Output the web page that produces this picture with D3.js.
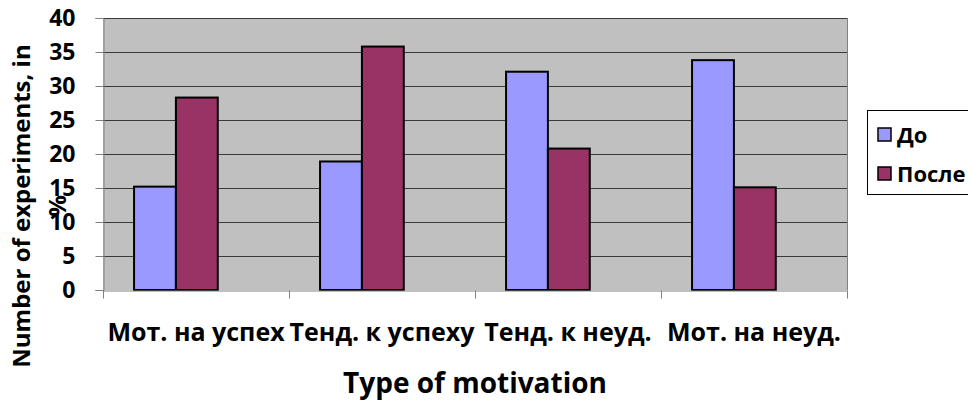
<!DOCTYPE html>
<html>
<head>
<meta charset="utf-8" />
<title></title>
<script src="https://cdn.jsdelivr.net/npm/d3@7"></script>
<style type="text/css">
    body { margin: 0; background: #fff; }
    text { font-family: "Open Sans", "Noto Sans", sans-serif; font-weight: bold; fill: #000; }
</style>
</head>
<body>
<div id="chart"></div>
<script type="text/javascript">
    var categories = ["Мот. на успех", "Тенд. к успеху", "Тенд. к неуд.", "Мот. на неуд."];
    var seriesNames = ["До", "После"];
    var before = [15.2, 18.9, 32.1, 33.8];
    var after = [28.3, 35.8, 20.8, 15.1];
    var yTicks = [0, 5, 10, 15, 20, 25, 30, 35, 40];
    var colors = ["#9999FF", "#993366"];

    var width = 968, height = 404;
    var plot = { left: 103, right: 847, top: 18, bottom: 290 };

    var svg = d3.select("#chart").append("svg")
        .attr("width", width)
        .attr("height", height);

    var x = d3.scaleBand().domain(categories).range([plot.left, plot.right]);
    var y = d3.scaleLinear().domain([0, 40]).range([plot.bottom, plot.top]);

    var step = x.step();
    var barW = step * 0.225;
    var offset = step * 0.167;

    // plot background
    svg.append("rect")
        .attr("x", plot.left).attr("y", plot.top)
        .attr("width", plot.right - plot.left).attr("height", plot.bottom - plot.top)
        .attr("fill", "#C0C0C0");

    // gridlines
    svg.selectAll(".grid").data(yTicks.slice(1)).enter().append("line")
        .attr("x1", plot.left).attr("x2", plot.right)
        .attr("y1", function (d) { return y(d) + 0.5; })
        .attr("y2", function (d) { return y(d) + 0.5; })
        .attr("stroke", "#3a3a3a").attr("stroke-width", 1);

    // right border
    svg.append("line")
        .attr("x1", plot.right + 0.5).attr("x2", plot.right + 0.5)
        .attr("y1", plot.top).attr("y2", plot.bottom)
        .attr("stroke", "#808080");

    // bars
    var rows = categories.map(function (c, i) { return { cat: c, vals: [before[i], after[i]] }; });
    var groups = svg.selectAll(".grp").data(rows).enter().append("g");
    groups.selectAll("rect").data(function (d) {
        return d.vals.map(function (v, j) { return { cat: d.cat, v: v, j: j }; });
    }).enter().append("rect")
        .attr("x", function (d) { return x(d.cat) + offset + d.j * barW; })
        .attr("y", function (d) { return y(d.v); })
        .attr("width", barW)
        .attr("height", function (d) { return plot.bottom - y(d.v); })
        .attr("fill", function (d) { return colors[d.j]; })
        .attr("stroke", "#000").attr("stroke-width", 2);

    // y axis
    var yAxis = d3.axisLeft(y).tickValues(yTicks).tickSize(8).tickPadding(20);
    var gy = svg.append("g").attr("transform", "translate(" + (plot.left + 0.5) + ",0)").call(yAxis);
    gy.select(".domain").attr("stroke", "#808080");
    gy.selectAll(".tick line").attr("stroke", "#808080");
    gy.selectAll("text").style("font-size", "23px").attr("fill", "#000");

    // x axis
    var xAxis = d3.axisBottom(x).tickSize(0).tickPadding(33);
    var gx = svg.append("g").attr("transform", "translate(0," + (plot.bottom + 0.5) + ")").call(xAxis);
    gx.select(".domain").attr("stroke", "#808080");
    gx.selectAll("text").style("font-size", "25px").attr("fill", "#000");
    gx.selectAll(".sep").data(categories.concat([null])).enter().append("line")
        .attr("x1", function (d, i) { return plot.left + i * step + 0.5; })
        .attr("x2", function (d, i) { return plot.left + i * step + 0.5; })
        .attr("y1", 0).attr("y2", 8)
        .attr("stroke", "#808080");

    // axis titles
    svg.append("text")
        .attr("x", (plot.left + plot.right) / 2).attr("y", 393)
        .attr("text-anchor", "middle")
        .style("font-size", "28px")
        .text("Type of motivation");

    var yt = svg.append("text")
        .attr("transform", "translate(22,206) rotate(-90)")
        .attr("text-anchor", "middle")
        .style("font-size", "24px");
    yt.append("tspan").attr("x", 0).attr("dy", "0.35em").text("Number of experiments, in");
    yt.append("tspan").attr("x", 0).attr("dy", 36).text("%");

    // legend
    var lg = svg.append("g");
    lg.append("rect")
        .attr("x", 867.5).attr("y", 110.5).attr("width", 120).attr("height", 84)
        .attr("fill", "#fff").attr("stroke", "#000").attr("stroke-width", 1);
    var items = lg.selectAll(".item").data(seriesNames).enter().append("g")
        .attr("transform", function (d, i) { return "translate(878," + (128 + i * 39) + ")"; });
    items.append("rect")
        .attr("width", 13).attr("height", 13)
        .attr("fill", function (d, i) { return colors[i]; })
        .attr("stroke", "#000").attr("stroke-width", 1.5);
    items.append("text")
        .attr("x", 19).attr("y", 7).attr("dy", "0.35em")
        .style("font-size", "22px")
        .text(function (d) { return d; });
</script>
</body>
</html>
